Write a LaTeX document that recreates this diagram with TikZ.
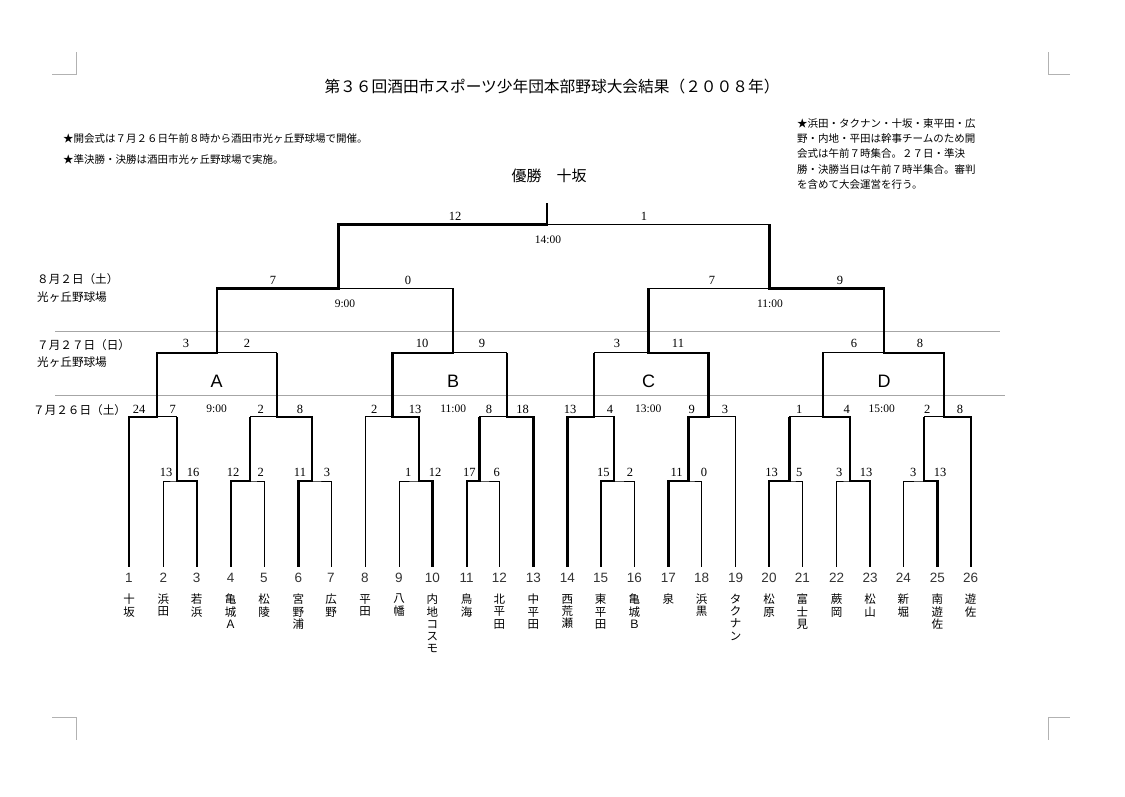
\documentclass[tikz,border=0pt]{standalone}
\usepackage{fontspec}
\setmainfont{Liberation Serif}
\newfontfamily\jpfont{Noto Sans CJK JP}
\newfontfamily\arialfont{Liberation Sans}
\tikzset{
  bline/.style={line width=0.9pt},
  win/.style={line width=2.4pt},
  dayrule/.style={gray!70,line width=0.8pt},
  cropmark/.style={gray!60,line width=0.8pt},
  score/.style={inner sep=0pt,font=\fontsize{12.5}{13}\selectfont},
  clock/.style={inner sep=0pt,font=\fontsize{11.5}{12}\selectfont},
  num/.style={inner sep=0pt,text=black!80,font=\arialfont\fontsize{13.5}{14}\selectfont},
  tname/.style={inner sep=0pt,anchor=north,align=center,font=\jpfont\fontsize{11.5}{12.2}\selectfont},
  grp/.style={inner sep=0pt,font=\arialfont\fontsize{18}{20}\selectfont},
  note/.style={inner sep=0pt,anchor=west,font=\jpfont\fontsize{10.5}{15.4}\selectfont},
  day/.style={inner sep=0pt,anchor=west,font=\jpfont\fontsize{11.6}{12}\selectfont},
}
\begin{document}
\begin{tikzpicture}[x=1pt,y=-1pt]
\useasboundingbox (0,0) rectangle (1125,796);

\draw[cropmark] (52,74) -- (76,74) -- (76,52);
\draw[cropmark] (1070,74) -- (1048,74) -- (1048,52);
\draw[cropmark] (52,717) -- (76,717) -- (76,740);
\draw[cropmark] (1070,717) -- (1048,717) -- (1048,740);

\node[inner sep=0pt,font=\jpfont\fontsize{15.7}{16}\selectfont] (title) at (552,87) {第３６回酒田市スポーツ少年団本部野球大会結果（２００８年）};
\node[note] (note1) at (63,138) {★開会式は７月２６日午前８時から酒田市光ヶ丘野球場で開催。};
\node[note] (note2) at (63,159) {★準決勝・決勝は酒田市光ヶ丘野球場で実施。};
\node[note,anchor=north west,align=left] (note3) at (797,118) {★浜田・タクナン・十坂・東平田・広\\野・内地・平田は幹事チームのため開\\会式は午前７時集合。２７日・準決\\勝・決勝当日は午前７時半集合。審判\\を含めて大会運営を行う。};
\node[inner sep=0pt,font=\jpfont\fontsize{15}{16}\selectfont] (champion) at (549,176) {優勝　十坂};

\node[day] (day3) at (37,279) {８月２日（土）};
\node[day] (field3) at (37,297) {光ヶ丘野球場};
\node[day] (day2) at (37,345) {７月２７日（日）};
\node[day] (field2) at (37,362) {光ヶ丘野球場};
\node[day] (day1) at (33,410) {７月２６日（土）};
\draw[dayrule] (55,331) -- (1000,331);
\draw[dayrule] (55,395) -- (1005,395);

\coordinate (t1) at (129,566.7);
\coordinate (t2) at (163.3,566.7);
\coordinate (t3) at (196.7,566.7);
\coordinate (t4) at (230.7,566.7);
\coordinate (t5) at (264,566.7);
\coordinate (t6) at (298.3,566.7);
\coordinate (t7) at (331,566.7);
\coordinate (t8) at (365,566.7);
\coordinate (t9) at (399,566.7);
\coordinate (t10) at (432.3,566.7);
\coordinate (t11) at (466.7,566.7);
\coordinate (t12) at (499.3,566.7);
\coordinate (t13) at (533.3,566.7);
\coordinate (t14) at (567.3,566.7);
\coordinate (t15) at (600.7,566.7);
\coordinate (t16) at (634.3,566.7);
\coordinate (t17) at (668.3,566.7);
\coordinate (t18) at (701.7,566.7);
\coordinate (t19) at (735.7,566.7);
\coordinate (t20) at (769,566.7);
\coordinate (t21) at (802.3,566.7);
\coordinate (t22) at (836.7,566.7);
\coordinate (t23) at (870,566.7);
\coordinate (t24) at (903.3,566.7);
\coordinate (t25) at (937.3,566.7);
\coordinate (t26) at (970.7,566.7);

\coordinate (j2) at (176.7,481);
\coordinate (j4) at (250,481);
\coordinate (j6) at (311.7,481);
\coordinate (j9) at (419,481);
\coordinate (j11) at (479.3,481);
\coordinate (j15) at (614,481);
\coordinate (j17) at (688.3,481);
\coordinate (j20) at (789.3,481);
\coordinate (j22) at (850,481);
\coordinate (j24) at (924,481);

\coordinate (k1) at (156.7,416.7);
\coordinate (k4) at (276.7,416.7);
\coordinate (k8) at (392.3,416.7);
\coordinate (k11) at (506.7,416.7);
\coordinate (k14) at (594,416.7);
\coordinate (k17) at (708.3,416.7);
\coordinate (k20) at (822.7,416.7);
\coordinate (k24) at (944,416.7);

\coordinate (gA) at (216.7,352.7);
\coordinate (gB) at (452.7,352.7);
\coordinate (gC) at (648.5,352.7);
\coordinate (gD) at (884,352.7);

\coordinate (s1) at (338.3,288.3);
\coordinate (s2) at (769.3,288.3);
\coordinate (f) at (546.7,224.3);
\coordinate (champ) at (546.7,203.3);

\draw[bline] (t2) |- (j2) -| (t3);
\draw[bline] (t4) |- (j4) -| (t5);
\draw[bline] (t6) |- (j6) -| (t7);
\draw[bline] (t9) |- (j9) -| (t10);
\draw[bline] (t11) |- (j11) -| (t12);
\draw[bline] (t15) |- (j15) -| (t16);
\draw[bline] (t17) |- (j17) -| (t18);
\draw[bline] (t20) |- (j20) -| (t21);
\draw[bline] (t22) |- (j22) -| (t23);
\draw[bline] (t24) |- (j24) -| (t25);
\draw[bline] (t1) |- (k1) -| (j2);
\draw[bline] (j4) |- (k4) -| (j6);
\draw[bline] (t8) |- (k8) -| (j9);
\draw[bline] (j11) |- (k11) -| (t13);
\draw[bline] (t14) |- (k14) -| (j15);
\draw[bline] (j17) |- (k17) -| (t19);
\draw[bline] (j20) |- (k20) -| (j22);
\draw[bline] (j24) |- (k24) -| (t26);
\draw[bline] (k1) |- (gA) -| (k4);
\draw[bline] (k8) |- (gB) -| (k11);
\draw[bline] (k14) |- (gC) -| (k17);
\draw[bline] (k20) |- (gD) -| (k24);
\draw[bline] (gA) |- (s1) -| (gB);
\draw[bline] (gC) |- (s2) -| (gD);
\draw[bline] (s1) |- (f) -| (s2);

\draw[win] (t3) |- (j2) -- (j2 |- k1);
\draw[win] (t4) |- (j4) -- (j4 |- k4);
\draw[win] (t6) |- (j6) -- (j6 |- k4);
\draw[win] (t10) |- (j9) -- (j9 |- k8);
\draw[win] (t11) |- (j11) -- (j11 |- k11);
\draw[win] (t15) |- (j15) -- (j15 |- k14);
\draw[win] (t17) |- (j17) -- (j17 |- k17);
\draw[win] (t20) |- (j20) -- (j20 |- k20);
\draw[win] (t23) |- (j22) -- (j22 |- k20);
\draw[win] (t25) |- (j24) -- (j24 |- k24);
\draw[win] (t1) |- (k1) -- (k1 |- gA);
\draw[win] (j6) |- (k4) -- (k4 |- gA);
\draw[win] (j9) |- (k8) -- (k8 |- gB);
\draw[win] (t13) |- (k11) -- (k11 |- gB);
\draw[win] (t14) |- (k14) -- (k14 |- gC);
\draw[win] (j17) |- (k17) -- (k17 |- gC);
\draw[win] (j22) |- (k20) -- (k20 |- gD);
\draw[win] (t26) |- (k24) -- (k24 |- gD);
\draw[win] (k1) |- (gA) -- (gA |- s1);
\draw[win] (k8) |- (gB) -- (gB |- s1);
\draw[win] (k17) |- (gC) -- (gC |- s2);
\draw[win] (k24) |- (gD) -- (gD |- s2);
\draw[win] (gA) |- (s1) -- (s1 |- f);
\draw[win] (gD) |- (s2) -- (s2 |- f);
\draw[win] (s1) |- (f) -- (champ);

\node[score] (l-j2) at (166,472) {13};
\node[score] (r-j2) at (193,472) {16};
\node[score] (l-j4) at (233,472) {12};
\node[score] (r-j4) at (260.7,472) {2};
\node[score] (l-j6) at (300,472) {11};
\node[score] (r-j6) at (327,472) {3};
\node[score] (l-j9) at (408.3,472) {1};
\node[score] (r-j9) at (435,472) {12};
\node[score] (l-j11) at (469.3,472) {17};
\node[score] (r-j11) at (496.7,472) {6};
\node[score] (l-j15) at (603.3,472) {15};
\node[score] (r-j15) at (630,472) {2};
\node[score] (l-j17) at (676.7,472) {11};
\node[score] (r-j17) at (704,472) {0};
\node[score] (l-j20) at (771.7,472) {13};
\node[score] (r-j20) at (799.3,472) {5};
\node[score] (l-j22) at (839.3,472) {3};
\node[score] (r-j22) at (866,472) {13};
\node[score] (l-j24) at (913.3,472) {3};
\node[score] (r-j24) at (940,472) {13};

\node[score] (l-k1) at (139,409) {24};
\node[score] (r-k1) at (172.7,409) {7};
\node[score] (l-k4) at (260.7,409) {2};
\node[score] (r-k4) at (300,409) {8};
\node[score] (l-k8) at (374.3,409) {2};
\node[score] (r-k8) at (415,409) {13};
\node[score] (l-k11) at (489,409) {8};
\node[score] (r-k11) at (522.7,409) {18};
\node[score] (l-k14) at (570,409) {13};
\node[score] (r-k14) at (610,409) {4};
\node[score] (l-k17) at (691.7,409) {9};
\node[score] (r-k17) at (725,409) {3};
\node[score] (l-k20) at (799.3,409) {1};
\node[score] (r-k20) at (846.7,409) {4};
\node[score] (l-k24) at (927.3,409) {2};
\node[score] (r-k24) at (960,409) {8};
\node[clock] (timeA) at (216.7,409) {9:00};
\node[clock] (timeB) at (453.3,409) {11:00};
\node[clock] (timeC) at (648.3,409) {13:00};
\node[clock] (timeD) at (881.7,409) {15:00};

\node[score] (l-gA) at (186,343) {3};
\node[score] (r-gA) at (247,343) {2};
\node[score] (l-gB) at (422,343) {10};
\node[score] (r-gB) at (482,343) {9};
\node[score] (l-gC) at (617,343) {3};
\node[score] (r-gC) at (678,343) {11};
\node[score] (l-gD) at (854,343) {6};
\node[score] (r-gD) at (920,343) {8};
\node[grp] (A) at (216.7,381) {A};
\node[grp] (B) at (453,381) {B};
\node[grp] (C) at (648.5,381) {C};
\node[grp] (D) at (884,381) {D};

\node[score] (l-s1) at (273,280) {7};
\node[score] (r-s1) at (408,280) {0};
\node[score] (l-s2) at (712,280) {7};
\node[score] (r-s2) at (840,280) {9};
\node[clock] (time1) at (345,304) {9:00};
\node[clock] (time2) at (770,304) {11:00};
\node[score] (l-f) at (455,216) {12};
\node[score] (r-f) at (644,216) {1};
\node[clock] (timeF) at (548,240) {14:00};

\node[num] (n1) at (129,578) {1};
\node[num] (n2) at (163.3,578) {2};
\node[num] (n3) at (196.7,578) {3};
\node[num] (n4) at (230.7,578) {4};
\node[num] (n5) at (264,578) {5};
\node[num] (n6) at (298.3,578) {6};
\node[num] (n7) at (331,578) {7};
\node[num] (n8) at (365,578) {8};
\node[num] (n9) at (399,578) {9};
\node[num] (n10) at (432.3,578) {10};
\node[num] (n11) at (466.7,578) {11};
\node[num] (n12) at (499.3,578) {12};
\node[num] (n13) at (533.3,578) {13};
\node[num] (n14) at (567.3,578) {14};
\node[num] (n15) at (600.7,578) {15};
\node[num] (n16) at (634.3,578) {16};
\node[num] (n17) at (668.3,578) {17};
\node[num] (n18) at (701.7,578) {18};
\node[num] (n19) at (735.7,578) {19};
\node[num] (n20) at (769,578) {20};
\node[num] (n21) at (802.3,578) {21};
\node[num] (n22) at (836.7,578) {22};
\node[num] (n23) at (870,578) {23};
\node[num] (n24) at (903.3,578) {24};
\node[num] (n25) at (937.3,578) {25};
\node[num] (n26) at (970.7,578) {26};

\node[tname] (m1) at (129,594) {十\\坂};
\node[tname] (m2) at (163.3,594) {浜\\田};
\node[tname] (m3) at (196.7,594) {若\\浜};
\node[tname] (m4) at (230.7,594) {亀\\城\\Ａ};
\node[tname] (m5) at (264,594) {松\\陵};
\node[tname] (m6) at (298.3,594) {宮\\野\\浦};
\node[tname] (m7) at (331,594) {広\\野};
\node[tname] (m8) at (365,594) {平\\田};
\node[tname] (m9) at (399,594) {八\\幡};
\node[tname] (m10) at (432.3,594) {内\\地\\コ\\ス\\モ};
\node[tname] (m11) at (466.7,594) {鳥\\海};
\node[tname] (m12) at (499.3,594) {北\\平\\田};
\node[tname] (m13) at (533.3,594) {中\\平\\田};
\node[tname] (m14) at (567.3,594) {西\\荒\\瀬};
\node[tname] (m15) at (600.7,594) {東\\平\\田};
\node[tname] (m16) at (634.3,594) {亀\\城\\Ｂ};
\node[tname] (m17) at (668.3,594) {泉};
\node[tname] (m18) at (701.7,594) {浜\\黒};
\node[tname] (m19) at (735.7,594) {タ\\ク\\ナ\\ン};
\node[tname] (m20) at (769,594) {松\\原};
\node[tname] (m21) at (802.3,594) {富\\士\\見};
\node[tname] (m22) at (836.7,594) {蕨\\岡};
\node[tname] (m23) at (870,594) {松\\山};
\node[tname] (m24) at (903.3,594) {新\\堀};
\node[tname] (m25) at (937.3,594) {南\\遊\\佐};
\node[tname] (m26) at (970.7,594) {遊\\佐};
\end{tikzpicture}
\end{document}
